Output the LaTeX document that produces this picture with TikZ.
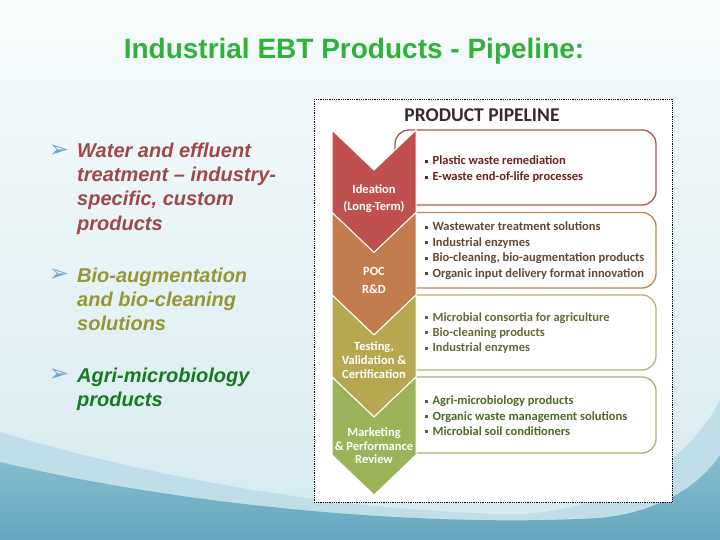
\documentclass[tikz,border=0pt]{standalone}
\usepackage{fontspec}
\setmainfont{Liberation Sans}
\newfontfamily\carl{Carlito}
\newfontfamily\dejavu{DejaVu Sans}
\usetikzlibrary{calc}
\definecolor{titlegreen}{RGB}{48,178,58}
\definecolor{lred}{RGB}{158,72,76}
\definecolor{lolive}{RGB}{150,150,52}
\definecolor{lgreen}{RGB}{22,122,32}
\definecolor{bulletblue}{RGB}{112,168,196}
\definecolor{chred}{RGB}{192,80,77}
\definecolor{chorange}{RGB}{194,124,78}
\definecolor{cholive}{RGB}{181,168,80}
\definecolor{chgreen}{RGB}{155,180,90}
\definecolor{bdred}{RGB}{176,84,80}
\definecolor{bdorange}{RGB}{186,134,92}
\definecolor{bdolive}{RGB}{186,178,120}
\definecolor{bdgreen}{RGB}{160,182,118}
\definecolor{txred}{RGB}{110,32,32}
\definecolor{txorange}{RGB}{96,72,52}
\definecolor{txolive}{RGB}{104,102,58}
\definecolor{txgreen}{RGB}{78,104,40}
\definecolor{pphead}{RGB}{60,40,40}
\definecolor{bgtop}{RGB}{247,251,251}
\definecolor{bgbot}{RGB}{214,234,240}
\definecolor{wave1}{RGB}{192,222,232}
\definecolor{wave2a}{RGB}{136,190,208}
\definecolor{wave2b}{RGB}{100,166,190}
\newcommand\sqb{\raisebox{1.8pt}{\rule{2.8pt}{2.8pt}}\hspace{4.6pt}}
\newcommand\chevshape[3]{%
  \fill[#1, draw=white, line width=1pt, line join=miter]
    (332,#2) -- (374,#2+40) -- (416,#2) -- (416,#3) -- (374,#3+40) -- (332,#3) -- cycle;}
\tikzset{
  pbox/.style={rounded corners=14pt, line width=1.3pt, fill=white},
  boxtxt/.style={anchor=base west, inner sep=0pt, font=\carl\bfseries\fontsize{12.5}{14}\selectfont},
  chevlbl/.style={anchor=base, inner sep=0pt, text=white, font=\carl\bfseries\fontsize{12.5}{14}\selectfont},
  lefttxt/.style={anchor=base west, inner sep=0pt, font=\bfseries\itshape\fontsize{20}{24}\selectfont},
  arrowbul/.style={inner sep=0pt, text=bulletblue, font=\dejavu\fontsize{24}{24}\selectfont},
}
\begin{document}
\begin{tikzpicture}[x=1pt,y=-1pt]
\useasboundingbox (0,0) rectangle (720,540);
% background
\shade[top color=bgtop, bottom color=bgbot] (0,0) rectangle (720,540);
\fill[wave1] (0,432) .. controls (120,468) and (300,508) .. (500,514) .. controls (610,517) and (690,460) .. (720,400) -- (720,540) -- (0,540) -- cycle;
\shade[top color=wave2a, bottom color=wave2b] (0,462) .. controls (180,505) and (420,528) .. (600,518) .. controls (660,512) and (700,485) .. (720,455) -- (720,540) -- (0,540) -- cycle;
% title
\node[text=titlegreen, font=\bfseries\fontsize{28}{32}\selectfont, anchor=base] (title) at (354,59) {Industrial EBT Products - Pipeline:};
% left bullets
\node[arrowbul] (b1) at (59,151) {➢};
\node[lefttxt, text=lred] (l11) at (77,158) {Water and effluent};
\node[lefttxt, text=lred] (l12) at (77,182) {treatment -- industry-};
\node[lefttxt, text=lred] (l13) at (77,206) {specific, custom};
\node[lefttxt, text=lred] (l14) at (77,230) {products};
\node[arrowbul] (b2) at (59,275) {➢};
\node[lefttxt, text=lolive] (l21) at (77,282) {Bio-augmentation};
\node[lefttxt, text=lolive] (l22) at (77,306) {and bio-cleaning};
\node[lefttxt, text=lolive] (l23) at (77,330) {solutions};
\node[arrowbul] (b3) at (59,375) {➢};
\node[lefttxt, text=lgreen] (l31) at (77,382) {Agri-microbiology};
\node[lefttxt, text=lgreen] (l32) at (77,406) {products};
% pipeline frame
\draw[densely dotted, line width=0.8pt, fill=white] (314,99) rectangle (672,502);
\node[text=pphead, font=\carl\bfseries\fontsize{19.5}{22}\selectfont, anchor=base] (pph) at (482,122) {PRODUCT PIPELINE};
% boxes
\draw[pbox, draw=bdred] (395,130) rectangle (656,205);
\draw[pbox, draw=bdorange] (395,212.5) rectangle (656,288);
\draw[pbox, draw=bdolive] (395,295) rectangle (656,370);
\draw[pbox, draw=bdgreen] (395,377) rectangle (656,453);
% chevrons
\chevshape{chred}{130}{212.5}
\chevshape{chorange}{212.5}{295}
\chevshape{cholive}{295}{377}
\chevshape{chgreen}{377}{455}
% chevron labels
\node[chevlbl] (c11) at (374,194) {Ideation};
\node[chevlbl] (c12) at (374,211) {(Long-Term)};
\node[chevlbl] (c21) at (374,275) {POC};
\node[chevlbl] (c22) at (374,293) {R\&D};
\node[chevlbl] (c31) at (374,350) {Testing,};
\node[chevlbl] (c32) at (374,364) {Validation \&};
\node[chevlbl] (c33) at (374,378) {Certification};
\node[chevlbl] (c41) at (374,436) {Marketing};
\node[chevlbl] (c42) at (374,450) {\& Performance};
\node[chevlbl] (c43) at (374,463) {Review};
% box texts
\node[boxtxt, text=txred] (t11) at (425,165) {\sqb Plastic waste remediation};
\node[boxtxt, text=txred] (t12) at (425,180.5) {\sqb E-waste end-of-life processes};
\node[boxtxt, text=txorange] (t21) at (425,230.5) {\sqb Wastewater treatment solutions};
\node[boxtxt, text=txorange] (t22) at (425,246) {\sqb Industrial enzymes};
\node[boxtxt, text=txorange] (t23) at (425,261.5) {\sqb Bio-cleaning, bio-augmentation products};
\node[boxtxt, text=txorange] (t24) at (425,277) {\sqb Organic input delivery format innovation};
\node[boxtxt, text=txolive] (t31) at (425,321) {\sqb Microbial consortia for agriculture};
\node[boxtxt, text=txolive] (t32) at (425,336) {\sqb Bio-cleaning products};
\node[boxtxt, text=txolive] (t33) at (425,351.5) {\sqb Industrial enzymes};
\node[boxtxt, text=txgreen] (t41) at (425,404.5) {\sqb Agri-microbiology products};
\node[boxtxt, text=txgreen] (t42) at (425,420) {\sqb Organic waste management solutions};
\node[boxtxt, text=txgreen] (t43) at (425,435) {\sqb Microbial soil conditioners};
\end{tikzpicture}
\end{document}
